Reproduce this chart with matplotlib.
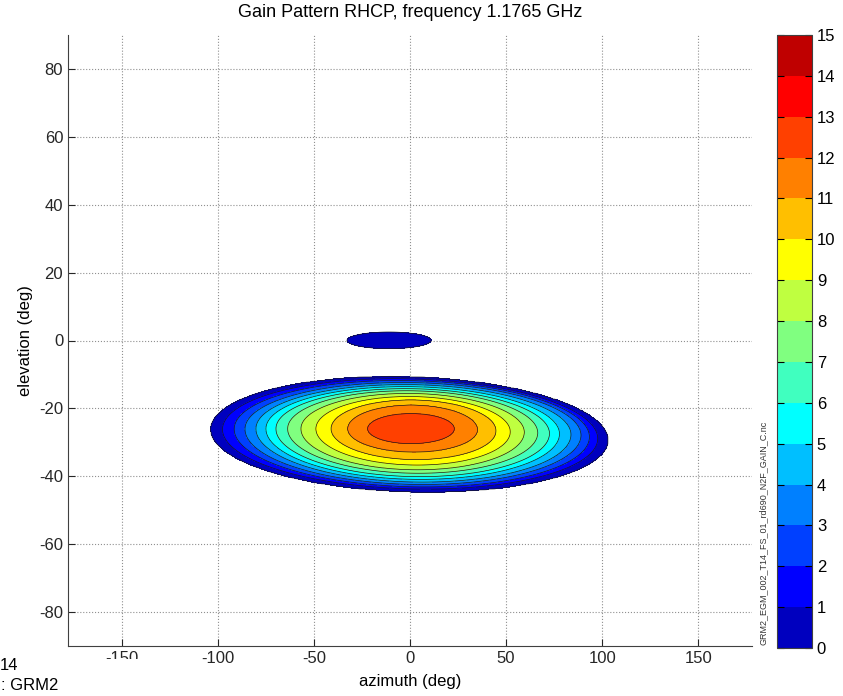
import numpy as np
import matplotlib
matplotlib.use('Agg')
import matplotlib.pyplot as plt
from matplotlib.colors import ListedColormap, BoundaryNorm
from matplotlib.patches import Rectangle

plt.rcParams['font.family'] = ['Liberation Sans', 'DejaVu Sans']
plt.rcParams['axes.unicode_minus'] = False

# --- contour rings (deg), one entry per gain level ---
ring_levels = np.arange(13)
az_left = [-103.6, -97.6, -91.5, -85.9, -80.2, -75.0, -69.8, -63.7, -56.8, -49.0, -41.1, -32.5, -22.1]
az_right = [102.9, 97.7, 93.4, 89.0, 83.8, 77.8, 72.6, 66.5, 59.5, 52.2, 44.8, 35.2, 23.1]
el_top = [-10.8, -11.3, -11.8, -12.4, -13.0, -13.6, -14.2, -14.8, -15.6, -16.5, -17.5, -19.0, -21.5]
el_bottom = [-44.5, -43.7, -43.1, -42.4, -41.7, -40.9, -40.1, -39.1, -38.1, -36.7, -35.1, -32.9, -30.4]
tip_left = [-26.2, -26.2, -26.1, -26.1, -26.0, -26.0, -26.0, -26.0, -26.0, -26.0, -26.0, -26.0, -26.0]
tip_right = [-29.4, -28.9, -28.4, -27.9, -27.7, -27.5, -27.4, -27.2, -27.0, -26.9, -26.6, -26.3, -26.0]
peak_gain = 12.8

# small side lobe near the horizon
blob_az = [-32.8, 11.0]
blob_el = [-2.4, 2.5]
blob_peak = 0.6

# colour levels (MATLAB jet(15))
cbar_levels = np.arange(16)
jet15 = [(0, 0, .75), (0, 0, 1), (0, .25, 1), (0, .5, 1), (0, .75, 1),
         (0, 1, 1), (.25, 1, .75), (.5, 1, .5), (.75, 1, .25), (1, 1, 0),
         (1, .75, 0), (1, .5, 0), (1, .25, 0), (1, 0, 0), (.75, 0, 0)]

title = 'Gain Pattern RHCP, frequency 1.1765 GHz'
file_tag = 'GRM2_EGM_002_T14_FS_01_rd690_N2F_GAIN_C.nc'

# --- build gain field from the rings ---
az = np.arange(-180, 180.01, 0.5)
el = np.arange(-90, 90.01, 0.25)
AZ, EL = np.meshgrid(az, el)

d = []
for i in range(len(ring_levels)):
    m = (az_left[i] + az_right[i]) / 2
    a = (az_right[i] - az_left[i]) / 2
    cen = tip_left[i] + (tip_right[i] - tip_left[i]) * (AZ - az_left[i]) / (az_right[i] - az_left[i])
    cm = (tip_left[i] + tip_right[i]) / 2
    up = el_top[i] - cm
    dn = cm - el_bottom[i]
    dy = np.where(EL > cen, (EL - cen) / up, (EL - cen) / dn)
    dx = (AZ - m) / a
    d.append(np.sqrt(dx**2 + dy**2))
d = np.array(d)

k = (d <= 1).sum(axis=0) - 1
gain = -(d[0] - 1)
for i in range(len(ring_levels) - 1):
    sel = k == i
    gain[sel] = i + (1 - d[i][sel]) / (d[i + 1][sel] - d[i][sel])
sel = k == len(ring_levels) - 1
gain[sel] = ring_levels[-1] + (peak_gain - ring_levels[-1]) * (1 - d[-1][sel]**2)

bm = (blob_az[0] + blob_az[1]) / 2
ba = (blob_az[1] - blob_az[0]) / 2
bc = (blob_el[0] + blob_el[1]) / 2
bb = (blob_el[1] - blob_el[0]) / 2
gb = blob_peak * (1 - ((AZ - bm) / ba)**2 - ((EL - bc) / bb)**2)
gain = np.maximum(gain, gb)

# --- plot ---
fig = plt.figure(figsize=(8.43, 6.96), dpi=100)
ax = fig.add_axes([68 / 843, 50 / 696, 684 / 843, 611 / 696])

cmap = ListedColormap(jet15)
norm = BoundaryNorm(cbar_levels, cmap.N)
cf = ax.contourf(AZ, EL, gain, levels=cbar_levels, cmap=cmap, norm=norm)
ax.contour(AZ, EL, gain, levels=ring_levels, colors='#1a1a1a', linewidths=0.5)

ax.set_xlim(-178, 178)
ax.set_ylim(-90, 90)
ax.set_xticks([-150, -100, -50, 0, 50, 100, 150])
ax.set_yticks([-80, -60, -40, -20, 0, 20, 40, 60, 80])
ax.grid(True, linestyle=':', color='#909090', linewidth=0.8)
ax.set_axisbelow(True)
for s in ['top', 'right']:
    ax.spines[s].set_visible(False)
for s in ['left', 'bottom']:
    ax.spines[s].set_color('#404040')
ax.tick_params(direction='in', length=5, labelsize=12, colors='#262626')

ax.set_title(title, fontsize=13, pad=13)
ax.set_xlabel('azimuth (deg)', fontsize=12, labelpad=6)
ax.set_ylabel('elevation (deg)', fontsize=12, labelpad=4)

cax = fig.add_axes([777 / 843, 48 / 696, 35 / 843, 613 / 696])
cb = fig.colorbar(cf, cax=cax, ticks=cbar_levels)
cax.tick_params(direction='in', length=5, labelsize=12, left=True, right=True)
cb.outline.set_edgecolor('#404040')

fig.text(763 / 843, 51 / 696, file_tag, rotation=90, fontsize=6.5,
         ha='center', va='bottom', color='#333333')

# white strip covering the bottom-left corner, with text
fig.patches.append(Rectangle((0, 0), 150 / 843, 37 / 696, transform=fig.transFigure,
                             facecolor='white', edgecolor='none', zorder=10))
fig.text(0 / 843, 31 / 696, '14', fontsize=12, ha='left', va='center', zorder=11)
fig.text(1 / 843, 10 / 696, ': GRM2', fontsize=12, ha='left', va='center', zorder=11)

fig.savefig('out.png', dpi=100)
